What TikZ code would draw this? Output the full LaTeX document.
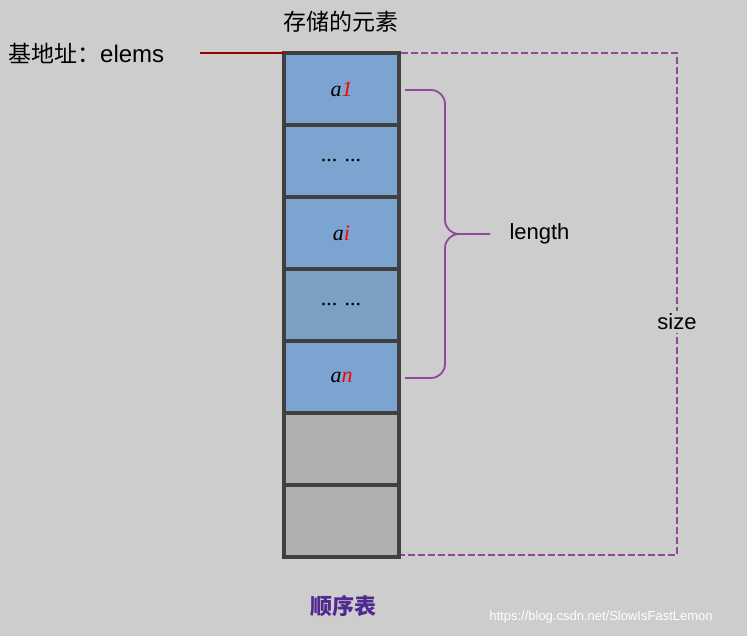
\documentclass[tikz,border=0pt]{standalone}
\usepackage{fontspec}
\setmainfont{Liberation Sans}
\newfontfamily\cjk{Noto Sans CJK SC}
\newfontfamily\ser{Liberation Serif}
\definecolor{bg}{HTML}{CDCDCD}
\definecolor{cellblue}{HTML}{7BA4D0}
\definecolor{cellgray}{HTML}{B0B0B0}
\definecolor{edge}{HTML}{404040}
\definecolor{purp}{HTML}{8E4A96}
\tikzset{cell/.style={draw=edge,line width=3.5pt,minimum width=115pt,minimum height=72pt,inner sep=0pt},
lbl/.style={font=\ser\itshape\fontsize{22}{22}\selectfont}}
\begin{document}
\begin{tikzpicture}[x=1pt,y=-1pt]
\fill[bg] (0,0) rectangle (747,636);
\useasboundingbox (0,0) rectangle (747,636);
\node[cell,fill=cellblue,lbl] (c1) at (341.5,89) {a\textcolor{red}{1}};
\node[cell,fill=cellblue,lbl] (c2) at (341.5,161) {... ...};
\node[cell,fill=cellblue,lbl] (c3) at (341.5,233) {a\textcolor{red}{i}};
\node[cell,fill=cellblue!85!gray,lbl] (c4) at (341.5,305) {... ...};
\node[cell,fill=cellblue,lbl] (c5) at (341.5,377) {a\textcolor{red}{n}};
\node[cell,fill=cellgray] (c6) at (341.5,449) {};
\node[cell,fill=cellgray] (c7) at (341.5,521) {};
\coordinate (base) at (200,53);
\coordinate (topl) at (284,53);
\draw[draw=red!60!black,line width=2pt] (base) -- (topl);
\node[font=\cjk\fontsize{23}{23}\selectfont,anchor=west,inner sep=0pt] (addr) at (8,53) {基地址：\fontspec{Liberation Sans}\fontsize{24}{24}\selectfont elems};
\node[font=\cjk\fontsize{23}{23}\selectfont] (title) at (341,22) {存储的元素};
\node[font=\cjk\bfseries\fontsize{22}{22}\selectfont,text=purp!70!blue!80!black] (name) at (343,606) {顺序表};
\node[font=\fontsize{13}{13}\selectfont,text=white] (wm) at (601,617) {https://blog.csdn.net/SlowIsFastLemon};
\node[font=\fontsize{22}{22}\selectfont,anchor=west] (len) at (506,234) {length};
\coordinate (btop) at (405,90);
\coordinate (bbot) at (405,378);
\coordinate (btip) at (490,234);
\draw[purp,line width=1.8pt,rounded corners=14pt] (btop) -- (445,90) -- (445,234) -- (btip);
\draw[purp,line width=1.8pt,rounded corners=14pt] (bbot) -- (445,378) -- (445,234) -- (btip);
\coordinate (tr) at (677,53);
\coordinate (br) at (677,555);
\coordinate (bl) at (401,555);
\coordinate (tl) at (401,53);
\draw[purp,line width=2pt,dash pattern=on 7pt off 3pt] (tl) -- (tr) -- (br) -- (bl);
\node[font=\fontsize{22}{22}\selectfont,fill=bg,inner sep=3pt] (size) at (677,322) {size};
\end{tikzpicture}
\end{document}
